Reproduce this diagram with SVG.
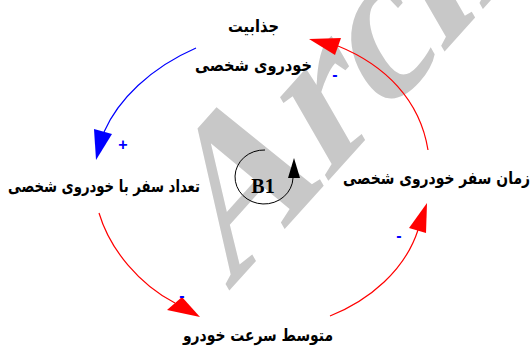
<svg xmlns="http://www.w3.org/2000/svg" width="531" height="347" viewBox="0 0 531 347">
<style>
.lbl{font-family:"DejaVu Sans",sans-serif;font-weight:bold;font-size:17px;fill:#000;text-anchor:middle}
.red{fill:none;stroke:#ff0000;stroke-width:1.2}
.blue{fill:none;stroke:#0000ff;stroke-width:1.2}
.rh{fill:#ff0000}
.bh{fill:#0000ff}
.sign{font-family:"Liberation Sans",sans-serif;font-weight:bold;font-size:16px;fill:#0000ff;text-anchor:middle}
</style>
<rect width="531" height="347" fill="#fff"/>
<text x="0" y="0" transform="translate(228,292) rotate(-48) skewX(-18)" font-family="Liberation Serif, serif" font-weight="bold" font-size="200" fill="#c8c8c8">Arch</text>
<g id="connectors">
<path class="blue" d="M196,48 C150,68 118,100 104,132"/>
<polygon class="bh" points="94,129 112,134 96,160"/>
<path class="red" d="M428,150 C420,100 385,65 338,46"/>
<polygon class="rh" points="309,39 341,38 335,55"/>
<path class="red" d="M330,316 C370,300 405,270 418,230"/>
<polygon class="rh" points="427,203 409,228 426,233"/>
<path class="red" d="M99,213 C110,250 140,285 175,303"/>
<polygon class="rh" points="200,317 167,310 182,297"/>
<text class="sign" x="123" y="150">+</text>
<text class="sign" x="335" y="80">-</text>
<text class="sign" x="399" y="241">-</text>
<text class="sign" x="182" y="301">-</text>
</g>
<g id="loop-B1">
<path d="M265,150 A29,27 0 1 0 293,178" fill="none" stroke="#000" stroke-width="1"/>
<polygon points="294,158 288,178 300,178" fill="#000"/>
<text x="263" y="193" font-family="Liberation Serif,serif" font-weight="bold" font-size="20" text-anchor="middle">B1</text>
</g>
<g id="node-attractiveness">
<text class="lbl" x="253.5" y="32" textLength="51" lengthAdjust="spacingAndGlyphs">جذابیت</text>
<text class="lbl" x="253.5" y="71" textLength="117" lengthAdjust="spacingAndGlyphs">خودروی شخصی</text>
</g>
<g id="node-trips">
<text class="lbl" x="104" y="192" textLength="192" lengthAdjust="spacingAndGlyphs">تعداد سفر با خودروی شخصی</text>
</g>
<g id="node-traveltime">
<text class="lbl" x="436.5" y="184" textLength="187" lengthAdjust="spacingAndGlyphs">زمان سفر خودروی شخصی</text>
</g>
<g id="node-speed">
<text class="lbl" x="258" y="341" textLength="150" lengthAdjust="spacingAndGlyphs">متوسط سرعت خودرو</text>
</g>
</svg>
